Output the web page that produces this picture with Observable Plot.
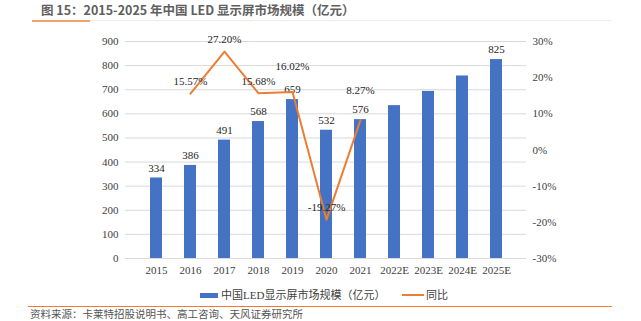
<!DOCTYPE html>
<html><head><meta charset="utf-8">
<script src="https://cdn.jsdelivr.net/npm/d3@7"></script>
<script src="https://cdn.jsdelivr.net/npm/@observablehq/plot@0.6"></script>
<style>
body{margin:0;background:#fff;width:641px;height:321px;overflow:hidden;position:relative;font-family:"Liberation Serif","Noto Sans CJK SC",serif;}
#title{position:absolute;left:41px;top:0px;line-height:16px;font:bold 12.5px "Noto Sans CJK SC","Noto Sans",sans-serif;color:#606060;white-space:nowrap;}
#tl1{position:absolute;left:32px;top:20px;width:58px;height:2px;background:#f0a46a;}
#tl2{position:absolute;left:90px;top:20px;width:522px;height:1px;background:#fbe9dc;}
#chart{position:absolute;left:0;top:28px;}
#chart svg, #chart svg text{font-family:"Liberation Serif","Noto Sans CJK SC",serif !important;}
.leg{position:absolute;top:287px;font-size:11px;color:#404040;white-space:nowrap;line-height:16px;}
#sw1{position:absolute;left:200px;top:293px;width:18px;height:5px;background:#4472c4;}
#sw2{position:absolute;left:402px;top:294px;width:22px;height:2px;background:#ed7d31;}
#sl{position:absolute;left:28px;top:306px;width:584px;height:1px;background:#ed7d31;}
#src{position:absolute;left:30px;top:307px;font-size:10.5px;color:#555;white-space:nowrap;line-height:13px;font-family:"Noto Sans CJK SC",sans-serif;}
</style></head>
<body>
<div id="title">图 15：2015-2025 年中国 LED 显示屏市场规模（亿元）</div>
<div id="tl1"></div><div id="tl2"></div>
<div id="chart"></div>
<div id="sw1"></div><div class="leg" style="left:221px">中国LED显示屏市场规模（亿元）</div>
<div id="sw2"></div><div class="leg" style="left:426px">同比</div>
<div id="sl"></div>
<div id="src">资料来源：卡莱特招股说明书、高工咨询、天风证券研究所</div>
<script>
const years = ["2015","2016","2017","2018","2019","2020","2021","2022E","2023E","2024E","2025E"];
const sizes = [334,386,491,568,659,532,576,634,693,757,825];
const labeledYears = ["2015","2016","2017","2018","2019","2020","2021","2025E"];
const growthYears = ["2016","2017","2018","2019","2020","2021"];
const growth = [15.57,27.20,15.68,16.02,-19.27,8.27];
const leftTicks = [0,100,200,300,400,500,600,700,800,900];
const rightTicks = [-30,-20,-10,0,10,20,30];

const toY = g => (g + 30) / 60 * 900;
const bars = years.map((y, i) => ({year: y, value: sizes[i]}));
const barLabels = bars.filter(d => labeledYears.includes(d.year));
const line = growthYears.map((y, i) => ({year: y, g: growth[i], yv: toY(growth[i])}));
const lift = {"2019": -26, "2021": -30};
const font = '"Liberation Serif","Noto Sans CJK SC",serif';

const chart = Plot.plot({
  width: 641, height: 255,
  marginLeft: 125, marginRight: 115, marginTop: 13, marginBottom: 25,
  style: {fontFamily: font, fontSize: "11px", color: "#404040", background: "transparent"},
  x: {domain: years, padding: 0.66, label: null},
  y: {domain: [0, 900], label: null},
  marks: [
    Plot.gridY(leftTicks, {stroke: "#d9d9d9", strokeOpacity: 1}),
    Plot.axisX({tickSize: 0, tickPadding: 8, label: null, fontSize: 11}),
    Plot.axisY(leftTicks, {anchor: "left", tickSize: 0, tickPadding: 7, label: null, fontSize: 11}),
    Plot.axisY(rightTicks.map(toY), {anchor: "right", tickSize: 0, tickPadding: 6, label: null, fontSize: 11,
      tickFormat: d => Math.round(d / 15 - 30) + "%"}),
    Plot.barY(bars, {x: "year", y: "value", fill: "#4472c4"}),
    Plot.text(barLabels, {x: "year", y: "value", text: d => String(d.value), dy: -10, fill: "#262626", fontSize: 11}),
    Plot.line(line, {x: "year", y: "yv", stroke: "#ed7d31", strokeWidth: 2}),
    Plot.text(line, {x: "year", y: "yv", text: d => d.g.toFixed(2) + "%", fill: "#262626", fontSize: 11})
  ]
});
document.getElementById("chart").append(chart);
// per-label vertical offsets for the growth labels
const lineTexts = chart.querySelectorAll("g[aria-label='text']")[1].querySelectorAll("text");
lineTexts.forEach((t, i) => {
  const dy = lift[growthYears[i]] ?? -12;
  t.setAttribute("transform", (t.getAttribute("transform") || "") + ` translate(0,${dy})`);
});
</script>
</body></html>
